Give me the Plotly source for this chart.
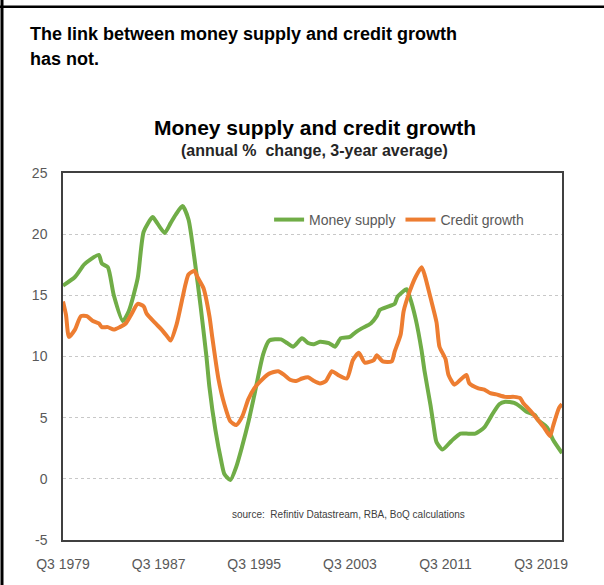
import plotly.graph_objects as go

# ---- data (quarter label, % value) ----
ms_quarters = ["1979Q3","1980Q3","1981Q2","1981Q4","1982Q3","1982Q4","1983Q2","1983Q4","1984Q3","1985Q1",
               "1985Q4","1986Q2","1987Q1","1987Q2","1988Q1","1988Q3","1989Q1","1989Q3","1990Q1","1990Q3",
               "1991Q1","1991Q3","1991Q4","1992Q2","1992Q4","1993Q1","1993Q3","1994Q1","1994Q3","1995Q1",
               "1995Q3","1996Q2","1996Q4","1997Q4","1998Q2","1998Q4","1999Q1","1999Q3","2000Q1","2000Q3",
               "2001Q1","2001Q4","2002Q2","2002Q4","2003Q3","2004Q1","2004Q3","2005Q2","2005Q4","2006Q1",
               "2006Q4","2007Q2","2007Q3","2008Q2","2008Q3","2009Q1","2009Q3","2009Q4","2010Q2","2010Q3",
               "2010Q4","2011Q2","2012Q1","2012Q4","2013Q2","2014Q1","2014Q4","2015Q3","2016Q1","2016Q3",
               "2017Q2","2017Q4","2018Q2","2019Q1","2019Q2","2020Q1","2020Q3","2021Q2"]
ms_values = [15.8, 16.5, 17.5, 17.9, 18.3, 17.6, 17.3, 15.0, 12.9, 13.7,
             16.4, 20.2, 21.4, 21.1, 20.1, 20.9, 21.7, 22.3, 21.2, 18.0,
             14.2, 10.0, 7.5, 4.0, 1.4, 0.4, -0.1, 1.0, 2.7, 4.6,
             6.8, 10.2, 11.3, 11.4, 11.1, 10.8, 11.0, 11.5, 11.1, 11.0,
             11.2, 11.1, 10.8, 11.5, 11.6, 12.0, 12.3, 12.7, 13.3, 13.8,
             14.1, 14.3, 14.9, 15.5, 14.9, 13.1, 10.5, 8.8, 6.0, 4.4,
             3.0, 2.4, 3.1, 3.7, 3.7, 3.7, 4.2, 5.4, 6.1, 6.3,
             6.2, 5.9, 5.5, 5.2, 4.8, 4.2, 3.2, 2.1]

cg_quarters = ["1979Q3","1979Q4","1980Q1","1980Q3","1981Q1","1981Q3","1982Q1","1982Q3","1982Q4","1983Q2",
               "1983Q4","1984Q2","1984Q4","1985Q2","1985Q4","1986Q2","1986Q3","1987Q2","1987Q4","1988Q2",
               "1988Q3","1989Q1","1989Q3","1989Q4","1990Q1","1990Q3","1990Q4","1991Q2","1991Q4","1992Q1",
               "1992Q3","1993Q1","1993Q3","1994Q1","1994Q3","1995Q1","1995Q3","1996Q2","1996Q4","1997Q3",
               "1998Q1","1998Q3","1999Q1","1999Q3","2000Q1","2000Q3","2001Q1","2001Q3","2002Q1","2002Q3",
               "2003Q2","2003Q4","2004Q2","2004Q4","2005Q3","2005Q4","2006Q2","2007Q1","2007Q2","2007Q4",
               "2008Q1","2008Q3","2009Q1","2009Q3","2009Q4","2010Q2","2010Q4","2011Q1","2011Q3","2011Q4",
               "2012Q2","2012Q4","2013Q2","2013Q3","2014Q2","2014Q4","2015Q2","2015Q4","2016Q3","2017Q2",
               "2017Q4","2018Q1","2018Q4","2019Q2","2019Q4","2020Q2","2020Q3","2021Q1","2021Q2"]
cg_values = [14.5, 13.4, 11.6, 12.2, 13.3, 13.3, 12.9, 12.7, 12.4, 12.4,
             12.2, 12.4, 12.7, 13.5, 14.3, 14.1, 13.5, 12.7, 12.2, 11.6,
             11.3, 12.6, 14.8, 15.9, 16.7, 17.0, 16.5, 15.6, 13.3, 11.5,
             8.2, 6.1, 4.7, 4.4, 5.1, 6.5, 7.4, 8.2, 8.6, 8.8,
             8.5, 8.1, 8.0, 8.2, 8.3, 8.0, 7.8, 8.0, 8.8, 8.5,
             8.2, 9.7, 10.3, 9.5, 9.7, 10.1, 9.6, 9.6, 10.4, 11.8,
             13.7, 15.3, 16.5, 17.3, 16.7, 14.8, 12.8, 10.8, 9.8, 8.5,
             7.7, 8.1, 8.5, 7.8, 7.4, 7.3, 7.0, 6.9, 6.7, 6.7,
             6.6, 6.2, 5.4, 4.8, 4.2, 3.5, 4.3, 5.8, 6.1]

tick_labels = ["Q3 1979", "Q3 1987", "Q3 1995", "Q3 2003", "Q3 2011", "Q3 2019"]
y_ticks = [-5, 0, 5, 10, 15, 20, 25]
y_tick_text = ["-5", "0", "5", "10", "15", "20", "25"]

# quarter index counted from the first category (Q3 1979)
def qidx(label):
    y, q = label.split("Q")
    return (int(y) - 1979) * 4 + (int(q) - 3)

def tick_idx(label):
    q, y = label.split(" ")
    return qidx(f"{y}{q}")

GREEN = "#70AD47"
ORANGE = "#ED7D31"
ARIAL = "Liberation Sans, Arial, sans-serif"

fig = go.Figure()
fig.add_trace(go.Scatter(x=[qidx(q) for q in ms_quarters], y=ms_values, mode="lines",
                         name="Money supply", line=dict(color=GREEN, width=4, shape="spline", smoothing=0.6)))
fig.add_trace(go.Scatter(x=[qidx(q) for q in cg_quarters], y=cg_values, mode="lines",
                         name="Credit growth", line=dict(color=ORANGE, width=4, shape="spline", smoothing=0.6)))

fig.update_layout(
    width=604, height=585,
    margin=dict(l=63, r=42, t=173, b=45),
    paper_bgcolor="white", plot_bgcolor="white",
    showlegend=True,
    legend=dict(orientation="h", x=0.413, y=0.872, xanchor="left", yanchor="middle",
                font=dict(family=ARIAL, size=14, color="#595959"),
                bgcolor="rgba(0,0,0,0)", itemwidth=30, tracegroupgap=0),
    xaxis=dict(range=[0, qidx("2021Q2")], tickvals=[tick_idx(t) for t in tick_labels], ticktext=tick_labels,
               showgrid=False, zeroline=False, showline=True, linecolor="#404040", linewidth=1.5,
               mirror=True, ticks="", ticklabelstandoff=10,
               tickfont=dict(family=ARIAL, size=14, color="#595959")),
    yaxis=dict(range=[-5, 25], tickvals=y_ticks, ticktext=y_tick_text, showgrid=True,
               gridcolor="#c8c8c8", griddash="dot",
               gridwidth=1, zeroline=False, showline=True, linecolor="#404040", linewidth=1.5,
               mirror=True, ticks="", ticklabelstandoff=11,
               tickfont=dict(family=ARIAL, size=14, color="#595959")),
    annotations=[
        dict(text="<b>The link between money supply and credit growth</b>",
             xref="paper", yref="paper", x=(28 - 63) / 499, y=(540 - 22) / 367,
             xanchor="left", yanchor="top", align="left", showarrow=False,
             font=dict(family=ARIAL, size=18, color="black")),
        dict(text="<b>has not.</b>",
             xref="paper", yref="paper", x=(28 - 63) / 499, y=(540 - 47) / 367,
             xanchor="left", yanchor="top", align="left", showarrow=False,
             font=dict(family=ARIAL, size=18, color="black")),
        dict(text="<b>Money supply and credit growth</b>", xref="paper", yref="paper",
             x=(315 - 63) / 499, y=(540 - 114) / 367, xanchor="center", yanchor="top", showarrow=False,
             font=dict(family=ARIAL, size=21, color="black")),
        dict(text="<b>(annual %  change, 3-year average)</b>", xref="paper", yref="paper",
             x=(314 - 63) / 499, y=(540 - 140) / 367, xanchor="center", yanchor="top", showarrow=False,
             font=dict(family=ARIAL, size=16, color="#262626")),
        dict(text="source:  Refintiv Datastream, RBA, BoQ calculations", xref="paper", yref="paper",
             x=(230 - 63) / 499, y=(540 - 514) / 367, xanchor="left", yanchor="middle", showarrow=False,
             font=dict(family=ARIAL, size=10, color="#404040")),
    ],
    shapes=[
        dict(type="line", xref="paper", yref="paper", x0=(2 - 63) / 499, x1=(2 - 63) / 499,
             y0=(540 - 0) / 367, y1=(540 - 585) / 367, line=dict(color="black", width=3)),
        dict(type="line", xref="paper", yref="paper", x0=(0 - 63) / 499, x1=(604 - 63) / 499,
             y0=(540 - 6.7) / 367, y1=(540 - 6.7) / 367, line=dict(color="black", width=2.5)),
    ],
)

fig.write_html("out.html")
